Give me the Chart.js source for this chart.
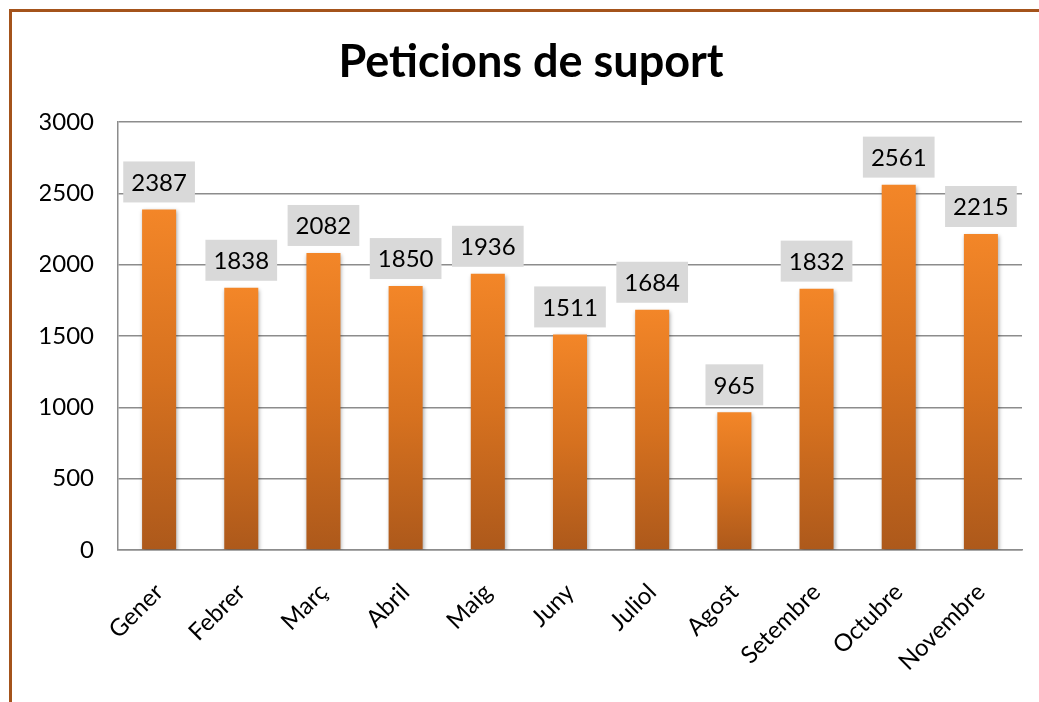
<!DOCTYPE html>
<html>
<head>
<meta charset="utf-8">
<script src="https://cdn.jsdelivr.net/npm/chart.js@4.4.1/dist/chart.umd.min.js"></script>
<style>
  html, body { margin: 0; padding: 0; background: #fff; overflow: hidden; }
  #wrap { position: relative; width: 1039px; height: 702px; }
  #frame {
    position: absolute; left: 9px; top: 9px; width: 1100px; height: 800px;
    border-left: 3px solid #a4531b; border-top: 3px solid #a4531b;
  }
  #chart { position: absolute; left: 0; top: 0; }
</style>
</head>
<body>
<div id="wrap">
  <div id="frame"></div>
  <canvas id="chart" width="1039" height="702"></canvas>
</div>
<script>
// dades
const mesos = ['Gener', 'Febrer', 'Març', 'Abril', 'Maig', 'Juny', 'Juliol', 'Agost', 'Setembre', 'Octubre', 'Novembre'];
const peticions = [2387, 1838, 2082, 1850, 1936, 1511, 1684, 965, 1832, 2561, 2215];
const ticksY = [0, 500, 1000, 1500, 2000, 2500, 3000];

const FONT = 'Lato, "Open Sans", sans-serif';

// degradat per barra (de dalt a baix)
function barGradient(context) {
  const chart = context.chart;
  const area = chart.chartArea;
  if (!area) return '#e87a22';
  const y = chart.scales.y;
  const top = y.getPixelForValue(context.raw);
  const bottom = y.getPixelForValue(0);
  const g = chart.ctx.createLinearGradient(0, top, 0, bottom);
  g.addColorStop(0, '#f38628');
  g.addColorStop(0.5, '#d6711f');
  g.addColorStop(1, '#ad591b');
  return g;
}

// ombra de les barres
const shadowPlugin = {
  id: 'barShadow',
  beforeDatasetsDraw(chart) {
    const ctx = chart.ctx;
    ctx.save();
    ctx.shadowColor = 'rgba(0,0,0,0.35)';
    ctx.shadowBlur = 4;
    ctx.shadowOffsetX = 1;
    ctx.shadowOffsetY = 2;
  },
  afterDatasetsDraw(chart) {
    chart.ctx.restore();
  }
};

// etiquetes amb caixa gris
const labelPlugin = {
  id: 'boxLabels',
  afterDatasetsDraw(chart) {
    const ctx = chart.ctx;
    const meta = chart.getDatasetMeta(0);
    ctx.save();
    ctx.font = '24px ' + FONT;
    ctx.textAlign = 'center';
    ctx.textBaseline = 'middle';
    meta.data.forEach((bar, i) => {
      const txt = String(peticions[i]);
      const w = ctx.measureText(txt).width + 16;
      const h = 41;
      const bx = bar.x - w / 2;
      const by = bar.y - 7 - h;
      ctx.fillStyle = '#d9d9d9';
      ctx.fillRect(bx, by, w, h);
      ctx.fillStyle = '#000';
      ctx.fillText(txt, bar.x, by + h / 2 + 1);
    });
    ctx.restore();
  }
};

const ctx = document.getElementById('chart').getContext('2d');
new Chart(ctx, {
  type: 'bar',
  data: {
    labels: mesos,
    datasets: [{
      data: peticions,
      backgroundColor: barGradient,
      borderWidth: 0,
      barPercentage: 0.414,
      categoryPercentage: 1
    }]
  },
  options: {
    responsive: false,
    animation: false,
    events: [],
    layout: { padding: { left: 40, right: 17, top: 0, bottom: 0 } },
    plugins: {
      legend: { display: false },
      tooltip: { enabled: false },
      title: {
        display: true,
        text: 'Peticions de suport',
        color: '#000',
        font: { family: FONT, size: 45, weight: 'bold', lineHeight: 1.2 },
        padding: { top: 35, bottom: 33 }
      }
    },
    scales: {
      x: {
        grid: { display: false },
        border: { display: true, color: '#8c8c8c', width: 1.5 },
        ticks: {
          color: '#000',
          font: { family: FONT, size: 24 },
          minRotation: 45,
          maxRotation: 45,
          padding: 20
        },
        afterFit(scale) { scale.height = 152; }
      },
      y: {
        min: 0,
        max: 3000,
        afterBuildTicks(scale) { scale.ticks = ticksY.map(v => ({ value: v })); },
        grid: { color: '#8c8c8c', lineWidth: 1.5, drawTicks: false },
        border: { display: true, color: '#8c8c8c', width: 1.5 },
        ticks: {
          color: '#000',
          font: { family: FONT, size: 24 },
          padding: 24,
          callback: v => String(v)
        },
        afterFit(scale) { scale.width = 78; }
      }
    }
  },
  plugins: [shadowPlugin, labelPlugin]
});
</script>
</body>
</html>
